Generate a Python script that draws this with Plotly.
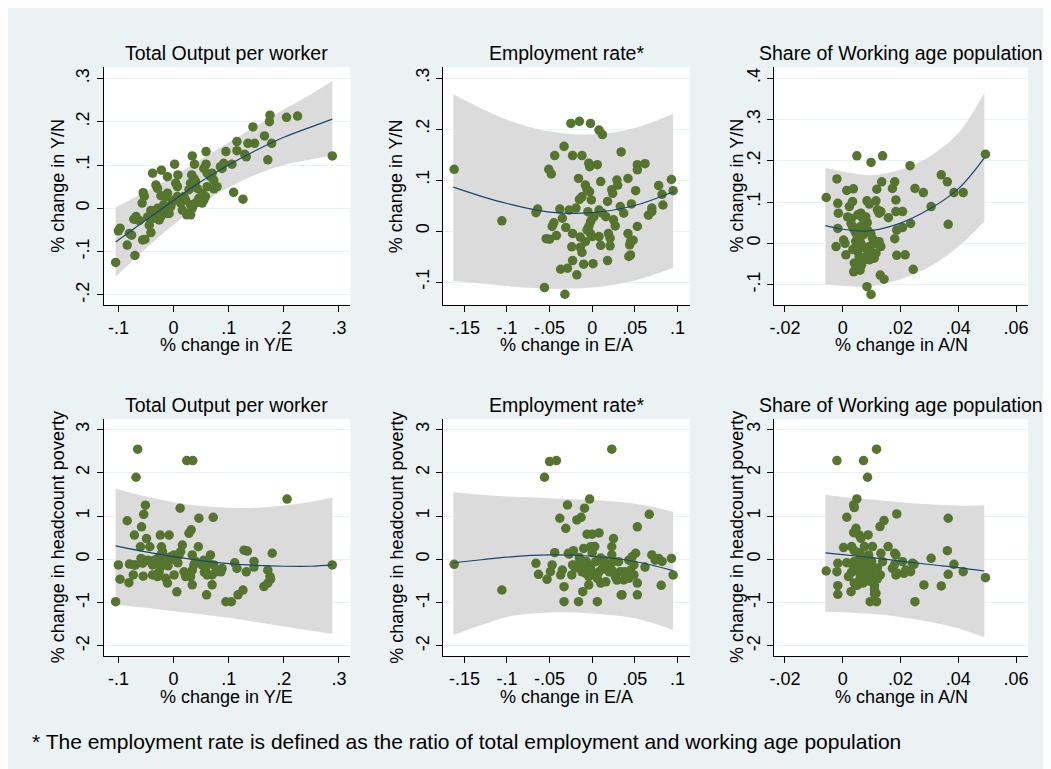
import plotly.graph_objects as go

# The page body adds an 8px margin, so the figure is drawn 8px in from the window's top-left.
OFF = 8
W, H = 1051 - OFF, 769 - OFF

# ---------------- data ----------------
# Panel 1: % change in Y/E vs % change in Y/N
p1_x = [-0.105,-0.100,-0.097,-0.084,-0.080,-0.076,-0.070,-0.072,-0.068,-0.065,-0.062,-0.056,-0.052,-0.057,-0.055,-0.053,
        -0.041,-0.038,-0.032,-0.029,-0.022,-0.041,-0.038,-0.035,-0.032,-0.029,-0.026,-0.023,-0.020,-0.018,-0.014,-0.012,
        -0.010,-0.008,-0.011,-0.014,-0.011,-0.005,-0.002,0.001,0.002,0.004,0.007,0.008,0.007,0.010,0.013,0.016,0.019,
        0.022,0.024,0.028,0.031,0.034,0.031,0.033,0.037,0.031,0.040,0.043,0.028,0.034,0.038,0.040,0.049,0.052,0.055,
        0.058,0.055,0.059,0.059,0.061,0.067,0.070,0.073,0.073,0.079,0.085,0.088,0.095,0.106,0.109,0.115,0.115,0.126,
        0.129,0.132,0.135,0.147,0.144,0.165,0.171,0.174,0.175,0.178,0.205,0.225,0.288,
        -0.047,-0.044,-0.023,0.046,0.052,0.061,0.091,0.013,0.019]
p1_y = [-0.125,-0.052,-0.046,-0.085,-0.058,-0.062,-0.109,-0.025,-0.019,-0.027,-0.028,-0.073,-0.072,0.012,0.036,0.028,
        -0.056,0.081,0.054,0.046,0.088,-0.005,-0.015,-0.023,-0.012,0.000,-0.027,-0.019,-0.004,0.008,0.004,-0.012,
        -0.004,-0.012,0.035,0.027,0.073,0.004,0.015,0.019,0.102,0.058,0.050,0.077,0.027,0.019,0.012,-0.004,0.027,
        0.019,-0.015,-0.012,-0.015,0.000,0.008,0.077,0.069,0.058,0.062,0.046,0.043,0.121,0.102,0.012,0.019,0.012,0.019,
        0.027,0.092,0.102,0.131,0.081,0.073,0.081,0.065,0.045,0.050,0.096,0.092,0.131,0.102,0.037,0.154,0.133,0.021,
        0.125,0.119,0.150,0.150,0.188,0.167,0.112,0.200,0.215,0.150,0.210,0.213,0.121,
        -0.020,-0.039,0.029,0.023,0.035,0.050,0.104,0.019,0.023]

# Panel 2: % change in E/A vs % change in Y/N
p2_x = [-0.162,-0.106,-0.066,-0.064,-0.056,-0.054,-0.050,-0.051,-0.048,-0.047,-0.045,-0.044,-0.042,-0.038,-0.037,-0.035,
        -0.033,-0.032,-0.031,-0.029,-0.025,-0.027,-0.024,-0.023,-0.023,-0.023,-0.019,-0.018,-0.016,-0.015,-0.015,-0.012,
        -0.014,-0.012,-0.014,-0.012,-0.010,-0.008,-0.006,-0.005,-0.004,-0.003,-0.008,-0.006,-0.004,-0.002,0.000,0.002,
        -0.002,0.000,-0.003,-0.001,-0.002,0.001,0.006,0.008,0.012,0.008,0.010,0.008,0.010,0.012,0.016,0.018,0.018,0.019,
        0.021,0.021,0.023,0.024,0.025,0.027,0.029,0.030,0.033,0.034,0.037,0.042,0.042,0.044,0.045,0.043,0.045,0.046,
        0.048,0.051,0.053,0.053,0.053,0.062,0.066,0.070,0.070,0.078,0.082,0.083,0.093,0.095]
p2_y = [0.121,0.020,0.036,0.043,-0.111,-0.015,-0.016,0.121,0.112,0.009,0.016,0.148,-0.009,0.043,-0.075,0.025,
        0.166,-0.124,0.007,-0.073,0.211,0.041,-0.031,-0.005,0.148,-0.058,0.045,-0.086,0.103,0.215,0.062,0.067,
        -0.012,0.148,-0.032,-0.042,-0.065,0.090,0.081,0.038,0.133,0.126,-0.021,0.002,0.009,0.018,0.025,0.028,
        -0.005,-0.011,0.077,0.061,0.211,-0.064,0.130,0.198,0.189,0.041,0.097,-0.011,-0.028,0.035,0.028,0.058,-0.058,-0.005,
        -0.014,-0.029,0.081,0.074,0.022,0.010,0.100,0.090,0.048,0.155,0.035,0.103,-0.005,-0.027,-0.021,-0.050,-0.047,0.053,
        -0.018,0.079,0.009,0.130,0.120,0.132,0.031,0.045,0.038,0.089,0.072,0.051,0.101,0.079]

# Panel 3: % change in A/N vs % change in Y/N
p3_x = [-0.0057,-0.0020,-0.0017,-0.0015,-0.0017,-0.0023,0.0003,0.0008,0.0011,0.0014,0.0017,0.0023,0.0034,0.0037,0.0038,
        0.0049,0.0029,0.0034,0.0040,0.0046,0.0052,0.0057,0.0063,0.0046,0.0052,0.0057,0.0040,0.0046,0.0052,0.0065,0.0052,
        0.0063,0.0069,0.0080,0.0074,0.0086,0.0097,0.0103,0.0109,0.0092,0.0097,0.0080,0.0092,0.0109,0.0115,0.0126,0.0132,
        0.0120,0.0084,0.0092,0.0084,0.0098,0.0098,0.0098,0.0107,0.0115,0.0118,0.0126,0.0130,0.0143,0.0135,0.0138,0.0132,
        0.0126,0.0158,0.0172,0.0180,0.0180,0.0184,0.0184,0.0187,0.0187,0.0207,0.0207,0.0216,0.0233,0.0235,0.0244,0.0250,
        0.0279,0.0306,0.0341,0.0362,0.0365,0.0385,0.0417,0.0494,
        0.0060,0.0070,0.0075,0.0068,0.0060,0.0045,0.0035,0.0085,0.0030]
p3_y = [0.111,0.156,0.097,0.073,0.036,-0.008,0.008,0.000,-0.028,0.128,0.064,0.089,0.101,0.132,-0.069,
        0.212,0.048,0.040,0.032,0.024,0.016,0.008,0.000,-0.008,-0.020,-0.032,-0.048,-0.061,-0.057,-0.053,0.069,
        0.073,0.061,0.064,0.040,0.032,0.024,0.012,0.000,-0.008,-0.020,-0.032,-0.040,-0.036,-0.024,0.004,-0.008,
        0.081,0.103,0.095,-0.105,-0.124,0.196,-0.032,-0.028,0.103,0.131,0.073,-0.077,-0.087,0.149,0.212,0.077,
        -0.004,0.062,0.133,0.149,0.011,0.105,0.077,0.032,-0.029,0.077,0.038,-0.028,0.188,0.048,-0.063,0.133,
        0.123,0.089,0.166,0.149,0.046,0.123,0.123,0.216,
        0.040,0.020,-0.010,-0.045,-0.065,0.005,-0.015,0.050,0.060]

# Panel 4: % change in Y/E vs % change in headcount poverty
p4_x = [-0.105,-0.100,-0.097,-0.084,-0.080,-0.072,-0.069,-0.081,-0.073,-0.071,-0.068,-0.065,-0.060,-0.058,-0.054,-0.051,
        -0.059,-0.054,-0.056,-0.055,-0.049,-0.043,-0.047,-0.041,-0.038,-0.035,-0.032,-0.029,-0.026,-0.023,-0.020,-0.023,
        -0.026,-0.032,-0.038,-0.029,-0.024,-0.008,-0.022,-0.014,-0.008,-0.005,0.001,0.004,0.010,0.013,0.016,-0.014,
        -0.011,0.001,0.006,0.012,0.019,0.022,0.024,0.035,0.028,0.032,0.034,0.037,0.034,0.040,0.031,0.034,0.046,0.045,
        0.055,0.052,0.058,0.061,0.056,0.064,0.067,0.073,0.070,0.077,0.060,0.072,0.070,0.088,0.086,0.095,0.105,0.111,
        0.115,0.117,0.126,0.128,0.134,0.132,0.146,0.146,0.164,0.171,0.175,0.176,0.171,0.179,0.206,0.288,
        -0.017,-0.010,0.008]
p4_y = [-0.979,-0.131,-0.46,0.89,-0.11,-0.13,-0.13,-0.54,-0.36,0.56,1.895,2.542,0.29,0.75,1.04,1.25,
        0.02,-0.02,-0.09,-0.39,0.48,0.29,-0.02,-0.05,-0.13,-0.02,-0.09,0.02,-0.05,0.10,0.18,-0.17,
        -0.29,-0.36,-0.36,-0.40,0.56,0.56,0.29,-0.05,-0.02,0.06,0.10,-0.02,0.10,0.18,0.33,-0.44,
        -0.55,-0.36,-0.75,1.18,-0.29,-0.40,2.28,2.28,0.60,0.68,0.10,-0.13,-0.25,-0.05,-0.40,-0.59,0.95,0.29,
        -0.02,-0.13,-0.25,-0.36,-0.30,-0.09,0.10,-0.13,-0.36,-0.29,-0.82,0.97,-0.59,-0.21,-0.29,-0.98,-0.98,-0.08,
        -0.21,-0.82,-0.71,0.21,0.19,-0.29,-0.05,-0.18,-0.63,-0.25,-0.40,-0.46,-0.55,0.14,1.39,-0.131,
        0.06,-0.15,-0.08]

# Panel 5: % change in E/A vs % change in headcount poverty
p5_x = [-0.162,-0.106,-0.066,-0.063,-0.056,-0.053,-0.050,-0.042,-0.049,-0.047,-0.044,-0.038,-0.037,-0.035,-0.033,-0.033,
        -0.031,-0.029,-0.028,-0.024,-0.023,-0.022,-0.027,-0.018,-0.013,-0.016,-0.011,-0.009,-0.010,-0.006,0.000,0.008,
        -0.003,-0.004,-0.002,-0.019,-0.014,-0.010,-0.006,-0.002,-0.012,-0.008,-0.004,0.002,0.006,0.008,0.012,0.014,
        0.018,0.020,0.023,0.025,0.023,0.027,0.029,0.016,0.010,0.006,0.025,0.023,0.023,0.034,0.037,0.038,0.043,0.047,
        0.049,0.051,0.045,0.049,0.043,0.053,0.053,0.035,0.053,0.062,0.067,0.070,0.074,0.078,0.082,0.093,0.081,0.095,
        0.004,0.008,0.031,0.033,0.000,0.003,0.016,-0.015,-0.020,-0.007,0.010]
p5_y = [-0.116,-0.709,-0.092,-0.347,1.895,-0.462,2.257,2.28,-0.285,-0.131,0.154,0.948,-0.362,-0.247,-0.632,-0.978,
        0.716,1.256,0.139,-0.362,-0.131,0.200,0.12,0.91,0.97,-0.978,-0.747,1.18,0.25,0.58,0.58,0.61,
        1.39,-0.593,0.29,-0.13,-0.09,-0.17,-0.13,-0.21,-0.29,-0.32,-0.40,-0.36,-0.44,-0.29,-0.21,-0.02,
        -0.13,-0.29,-0.25,-0.05,0.10,-0.40,-0.48,-0.52,-0.55,-0.978,0.48,0.29,2.542,-0.824,-0.478,-0.285,-0.02,0.06,
        -0.13,0.14,-0.25,-0.36,-0.44,-0.55,-0.82,-0.82,0.75,-0.18,1.04,0.10,-0.02,0.02,-0.05,0.02,-0.60,-0.36,
        -0.054,-0.015,-0.054,-0.285,0.154,0.293,-0.231,0.04,-0.20,-0.05,0.03]

# Panel 6: % change in A/N vs % change in headcount poverty
p6_x = [-0.0057,-0.0020,-0.0020,-0.0017,-0.0017,-0.0017,0.0003,0.0014,0.0014,0.0029,0.0031,0.0038,0.0040,0.0038,0.0046,
        0.0049,0.0057,0.0063,0.0072,0.0075,0.0086,0.0088,0.0095,0.0117,0.0103,0.0117,0.0115,0.0129,0.0132,0.0138,0.0130,
        0.0143,0.0157,0.0172,0.0180,0.0184,0.0187,0.0184,0.0190,0.0180,0.0207,0.0212,0.0218,0.0235,0.0241,0.0247,0.0250,
        0.0281,0.0306,0.0341,0.0362,0.0365,0.0365,0.0385,0.0417,0.0494,
        0.004,0.005,0.005,0.006,0.006,0.004,0.007,0.007,0.008,0.008,0.009,0.009,0.010,0.010,0.011,0.011,0.006,0.008,
        0.012,0.005,0.003,0.007,0.010,0.012,0.009,0.006,0.011,0.003,0.004,0.002]
p6_y = [-0.270,2.28,-0.285,-0.092,-0.609,-0.809,0.270,0.971,-0.077,-0.747,0.293,1.256,1.194,0.616,0.716,
        1.394,0.562,0.485,2.28,0.293,1.895,0.562,-0.978,-0.978,0.293,2.542,-0.786,0.755,0.139,-0.054,-0.362,
        0.894,0.293,-0.208,0.139,0.100,1.048,-0.362,-0.324,-0.116,-0.054,-0.324,-0.247,-0.285,-0.092,-0.116,-0.978,
        -0.593,0.023,-0.616,0.200,0.948,-0.347,-0.116,-0.285,-0.424,
        -0.05,-0.15,-0.25,-0.35,-0.45,-0.55,-0.10,-0.20,-0.30,-0.40,-0.50,-0.15,-0.25,-0.35,-0.60,-0.70,0.05,0.00,
        -0.45,-0.60,-0.30,-0.55,-0.05,-0.20,0.10,0.15,-0.80,-0.10,0.20,-0.40]

# Quadratic fits with confidence bands (read at a few x positions)
f1_x = [-0.105,-0.05,0.0,0.05,0.1,0.15,0.2,0.25,0.288]
f1_fit = [-0.078,-0.027,0.018,0.062,0.100,0.134,0.164,0.188,0.206]
f1_hi = [0.002,0.039,0.074,0.114,0.152,0.190,0.228,0.264,0.294]
f1_lo = [-0.158,-0.093,-0.038,0.010,0.048,0.078,0.100,0.113,0.122]

f2_x = [-0.163,-0.13,-0.1,-0.05,0.0,0.05,0.095]
f2_fit = [0.086,0.068,0.054,0.037,0.036,0.050,0.077]
f2_hi = [0.268,0.240,0.218,0.195,0.189,0.202,0.230]
f2_lo = [-0.098,-0.103,-0.108,-0.113,-0.111,-0.097,-0.072]

f3_x = [-0.006,0.0,0.005,0.01,0.02,0.03,0.04,0.049]
f3_fit = [0.043,0.034,0.030,0.031,0.049,0.083,0.132,0.207]
f3_hi = [0.183,0.174,0.168,0.165,0.178,0.210,0.267,0.365]
f3_lo = [-0.099,-0.103,-0.105,-0.104,-0.087,-0.057,-0.008,0.053]

f4_x = [-0.105,-0.05,0.0,0.05,0.1,0.15,0.2,0.25,0.288]
f4_fit = [0.31,0.17,0.06,-0.03,-0.10,-0.14,-0.16,-0.16,-0.13]
f4_hi = [1.63,1.45,1.32,1.23,1.19,1.19,1.24,1.33,1.42]
f4_lo = [-1.05,-1.12,-1.20,-1.27,-1.35,-1.45,-1.55,-1.65,-1.72]

f5_x = [-0.163,-0.13,-0.1,-0.05,0.0,0.05,0.095]
f5_fit = [-0.08,-0.01,0.05,0.10,0.07,-0.05,-0.26]
f5_hi = [1.55,1.49,1.45,1.41,1.37,1.28,1.10]
f5_lo = [-1.75,-1.52,-1.33,-1.23,-1.25,-1.36,-1.63]

f6_x = [-0.006,0.0,0.01,0.02,0.03,0.04,0.049]
f6_fit = [0.15,0.11,0.04,-0.04,-0.12,-0.19,-0.27]
f6_hi = [1.49,1.44,1.38,1.32,1.27,1.24,1.25]
f6_lo = [-1.21,-1.22,-1.26,-1.33,-1.44,-1.59,-1.80]

# Titles / tick labels
panel_titles = ["Total Output per worker", "Employment rate*", "Share of Working age population"] * 2
x_titles = ["% change in Y/E", "% change in E/A", "% change in A/N"] * 2
y_titles = ["% change in Y/N"] * 3 + ["% change in headcount poverty"] * 3
footnote = "* The employment rate is defined as the ratio of total employment and working age population"

xt1_vals = [-0.1, 0, 0.1, 0.2, 0.3]; xt1_text = ["-.1", "0", ".1", ".2", ".3"]
xt2_vals = [-0.15, -0.1, -0.05, 0, 0.05, 0.1]; xt2_text = ["-.15", "-.1", "-.05", "0", ".05", ".1"]
xt3_vals = [-0.02, 0, 0.02, 0.04, 0.06]; xt3_text = ["-.02", "0", ".02", ".04", ".06"]
yt1_vals = [-0.2, -0.1, 0, 0.1, 0.2, 0.3]; yt1_text = ["-.2", "-.1", "0", ".1", ".2", ".3"]
yt2_vals = [-0.1, 0, 0.1, 0.2, 0.3]; yt2_text = ["-.1", "0", ".1", ".2", ".3"]
yt3_vals = [-0.1, 0, 0.1, 0.2, 0.3, 0.4]; yt3_text = ["-.1", "0", ".1", ".2", ".3", ".4"]
yt4_vals = [-2, -1, 0, 1, 2, 3]; yt4_text = ["-2", "-1", "0", "1", "2", "3"]

# ---------------- styling ----------------
FONT = "Liberation Sans, Arial, sans-serif"
BG = "#EAF2F3"
MARKER = "#55752F"
LINE = "#1A476F"
BAND = "#DBDBDB"


def fx_(px):
    return (px - OFF) / W


def fy_(py):
    return 1 - (py - OFF) / H


# plot areas in window pixels (left, right, top, bottom)
boxes = [(99, 347, 67, 305), (440, 688, 67, 305), (772.7, 1028, 67, 305),
         (99, 347, 419, 656), (440, 688, 419, 656), (772.7, 1028, 419, 656)]
xranges = [[-0.1269, 0.3208], [-0.1752, 0.1145], [-0.02376, 0.06415]] * 2
yranges = [[-0.2233, 0.3263], [-0.1451, 0.3216], [-0.1495, 0.4272],
           [-2.233, 3.240], [-2.233, 3.240], [-2.233, 3.240]]
xticks = [(xt1_vals, xt1_text), (xt2_vals, xt2_text), (xt3_vals, xt3_text)] * 2
yticks = [(yt1_vals, yt1_text), (yt2_vals, yt2_text), (yt3_vals, yt3_text),
          (yt4_vals, yt4_text), (yt4_vals, yt4_text), (yt4_vals, yt4_text)]

points = [(p1_x, p1_y), (p2_x, p2_y), (p3_x, p3_y), (p4_x, p4_y), (p5_x, p5_y), (p6_x, p6_y)]
fits = [(f1_x, f1_fit, f1_lo, f1_hi), (f2_x, f2_fit, f2_lo, f2_hi), (f3_x, f3_fit, f3_lo, f3_hi),
        (f4_x, f4_fit, f4_lo, f4_hi), (f5_x, f5_fit, f5_lo, f5_hi), (f6_x, f6_fit, f6_lo, f6_hi)]

fig = go.Figure()
layout = dict(
    width=W, height=H, margin=dict(l=0, r=0, t=0, b=0),
    paper_bgcolor=BG, plot_bgcolor="white", showlegend=False,
    font=dict(family=FONT, size=18, color="black"),
)
annotations = []
for i in range(6):
    n = "" if i == 0 else str(i + 1)
    xa, ya = "x" + n, "y" + n
    fx, ffit, flo, fhi = fits[i]
    fig.add_trace(go.Scatter(x=fx, y=flo, mode="lines", line=dict(width=0, color=BAND, shape="spline"),
                             hoverinfo="skip", xaxis=xa, yaxis=ya))
    fig.add_trace(go.Scatter(x=fx, y=fhi, mode="lines", fill="tonexty", fillcolor=BAND,
                             line=dict(width=0, color=BAND, shape="spline"),
                             hoverinfo="skip", xaxis=xa, yaxis=ya))
    px_, py_ = points[i]
    fig.add_trace(go.Scatter(x=px_, y=py_, mode="markers",
                             marker=dict(color=MARKER, size=9.5, line=dict(width=0)),
                             xaxis=xa, yaxis=ya))
    fig.add_trace(go.Scatter(x=fx, y=ffit, mode="lines", line=dict(color=LINE, width=1.2, shape="spline"),
                             xaxis=xa, yaxis=ya))
    l, r, t, b = boxes[i]
    layout["xaxis" + n] = dict(
        domain=[fx_(l), fx_(r)], range=xranges[i], anchor=ya,
        tickmode="array", tickvals=xticks[i][0], ticktext=xticks[i][1],
        showline=True, linecolor="black", linewidth=1, ticks="outside", ticklen=6, tickcolor="black",
        showgrid=False, zeroline=False, tickfont=dict(size=18))
    layout["yaxis" + n] = dict(
        domain=[fy_(b), fy_(t)], range=yranges[i], anchor=xa,
        tickmode="array", tickvals=yticks[i][0], ticktext=yticks[i][1], tickangle=-90,
        showline=True, linecolor="black", linewidth=1, ticks="outside", ticklen=6, tickcolor="black",
        showgrid=True, gridcolor=BG, gridwidth=1, zeroline=False, tickfont=dict(size=18))
    cx = (l + r) / 2
    row_off = 0 if i < 3 else 352
    annotations.append(dict(text=panel_titles[i], x=fx_(cx), y=fy_(53 + row_off), xref="paper", yref="paper",
                            showarrow=False, xanchor="center", yanchor="middle", font=dict(size=19.5)))
    annotations.append(dict(text=x_titles[i], x=fx_(cx), y=fy_(345 + row_off), xref="paper", yref="paper",
                            showarrow=False, xanchor="center", yanchor="middle", font=dict(size=18)))
    ytx = [53, 393, 735][i % 3]
    annotations.append(dict(text=y_titles[i], x=fx_(ytx), y=fy_((t + b) / 2), xref="paper", yref="paper",
                            showarrow=False, xanchor="center", yanchor="middle", textangle=-90,
                            font=dict(size=18)))

annotations.append(dict(text=footnote, x=fx_(25), y=fy_(741), xref="paper", yref="paper", showarrow=False,
                        xanchor="left", yanchor="middle", font=dict(size=21)))
layout["annotations"] = annotations
fig.update_layout(**layout)
fig.write_html("out.html")
